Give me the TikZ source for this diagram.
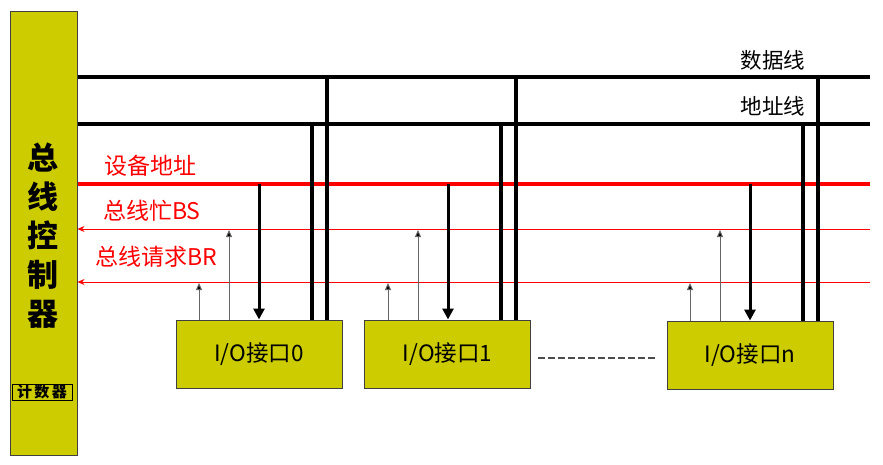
\documentclass[tikz,border=0pt]{standalone}
\usepackage{fontspec}
\setmainfont{Noto Sans CJK SC}
\usetikzlibrary{arrows.meta}
\definecolor{boxfill}{HTML}{CCCC00}
\definecolor{sigred}{HTML}{FF0000}
\begin{document}
\begin{tikzpicture}[x=1pt,y=-1pt,
  iobox/.style={draw=black!75, fill=boxfill, line width=1pt, minimum width=166pt, minimum height=68pt, inner sep=0pt, font=\fontsize{22.5}{24}\selectfont},
  bus/.style={line width=3.6pt, black},
  redbus/.style={line width=3.6pt, sigred},
  sig/.style={line width=0.9pt, sigred, -{Stealth[length=7pt,width=6pt]}},
  req/.style={line width=1pt, black!60, -{Triangle[length=7pt,width=6pt,fill=black]}},
  down/.style={line width=3pt, black, -{Triangle[length=11pt,width=11pt]}},
  buslabel/.style={font=\fontsize{21.5}{23}\selectfont, inner sep=0pt},
  redlabel/.style={font=\fontsize{23}{25}\selectfont, text=sigred, inner sep=0pt, anchor=west}]
\useasboundingbox (0,0) rectangle (883,465);
\fill[white] (0,0) rectangle (883,465);
% controller
\node[draw=black!75, fill=boxfill, line width=1pt, minimum width=67pt, minimum height=443pt, inner sep=0pt] (ctrl) at (43.5,233.5) {};
\node[font=\fontsize{31}{39}\selectfont\bfseries, align=center, inner sep=0pt] (ctext) at (43,236) {总\\线\\控\\制\\器};
\node[draw=black, line width=1pt, minimum width=60pt, minimum height=16pt, inner sep=0pt, font=\fontsize{15}{16}\selectfont\bfseries] (cnt) at (42,392) {计\,数\,器};
% IO boxes
\node[iobox] (io0) at (259,354) {I/O接口0};
\node[iobox] (io1) at (447.5,354) {I/O接口1};
\node[iobox] (ion) at (750,355) {I/O接口n};
% bus right ends
\coordinate (dR) at (870,77);
\coordinate (aR) at (870,124);
\coordinate (eR) at (870,184);
\coordinate (sR) at (870,229);
\coordinate (rR) at (870,282);
\draw[bus] (ctrl.east |- dR) -- (dR);
\draw[bus] (ctrl.east |- aR) -- (aR);
\draw[redbus] (ctrl.east |- eR) -- (eR);
\draw[sig] (sR) -- (ctrl.east |- sR);
\draw[sig] (rR) -- (ctrl.east |- rR);
% labels
\node[buslabel] (ld) at (773,60) {数据线};
\node[buslabel] (la) at (773,106) {地址线};
\node[redlabel] (le) at (104,166) {设备地址};
\node[redlabel] (ls) at (103,211) {总线忙BS};
\node[redlabel] (lr) at (95,257) {总线请求BR};
% taps for each interface
\foreach \b/\d/\a/\e/\s/\r in {io0/327/312/259/229/199, io1/516/501/448/418/388, ion/818/803/750/720/690}{
  \coordinate (d-\b) at (\d,77);
  \coordinate (a-\b) at (\a,124);
  \coordinate (e-\b) at (\e,184);
  \coordinate (s-\b) at (\s,230);
  \coordinate (r-\b) at (\r,283);
  \draw[bus] (d-\b) -- (d-\b |- \b.north);
  \draw[bus] (a-\b) -- (a-\b |- \b.north);
  \draw[down] (e-\b) -- (e-\b |- \b.north);
  \draw[req] (s-\b |- \b.north) -- (s-\b);
  \draw[req] (r-\b |- \b.north) -- (r-\b);
}
% dashed connector
\coordinate (dl) at (538,358);
\coordinate (dr) at (657,358);
\draw[black!70, line width=1.2pt, dash pattern=on 7pt off 3pt] (dl) -- (dr);
\end{tikzpicture}
\end{document}
